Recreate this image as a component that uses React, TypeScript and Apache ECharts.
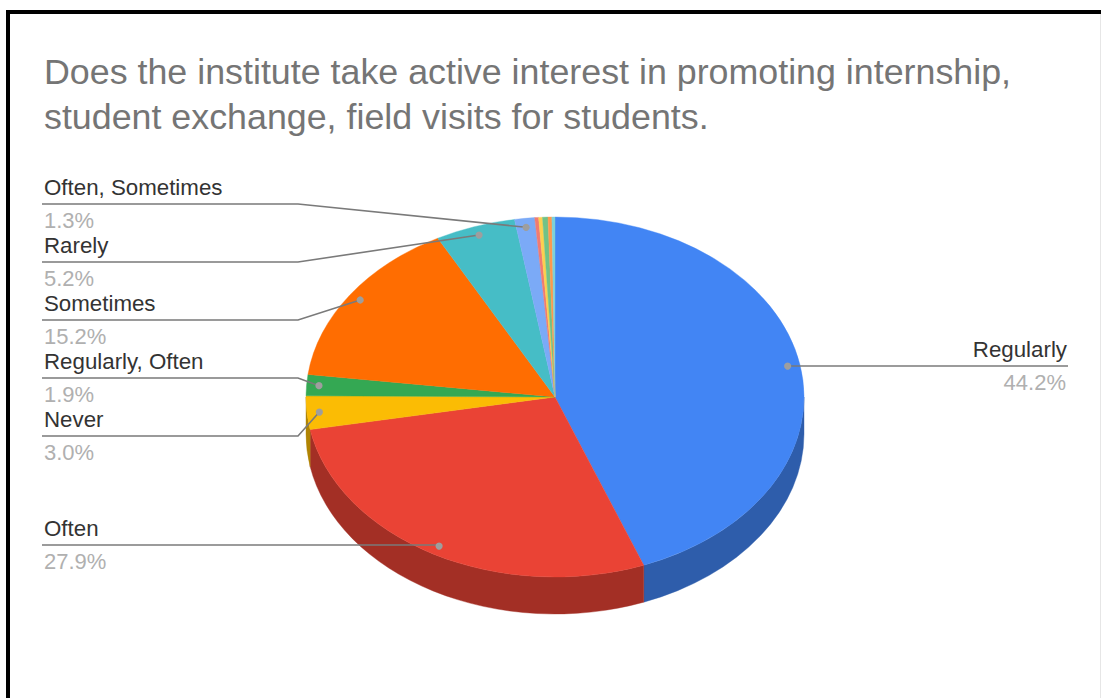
import React, { useEffect, useRef } from "react";
import * as echarts from "echarts";

const titleText =
  "Does the institute take active interest in promoting internship,\nstudent exchange, field visits for students.";
const categories = [
  "Regularly",
  "Often",
  "Never",
  "Regularly, Often",
  "Sometimes",
  "Rarely",
  "Often, Sometimes",
  "",
  "",
  "",
  "",
  "",
];
const values = [44.2, 27.9, 3.0, 1.9, 15.2, 5.2, 1.3, 0.25, 0.25, 0.35, 0.25, 0.2];
const colors = [
  "#4285f4", "#ea4335", "#fbbc04", "#34a853", "#ff6d01", "#46bdc6",
  "#7baaf7", "#f07b72", "#fcd04f", "#71c287", "#ff994d", "#7ed1d7",
];
const sideColors = [
  "#2e5dab", "#a32f25", "#b08403", "#24763a", "#b34c01", "#31848b",
  "#5677ad", "#a85650", "#b09237", "#4f885f", "#b36b36", "#588e96",
];

const CX = 555;
const CY = 397;
const RX = 249;
const RY = 180;
const DEPTH = 37;
const FONT = "'Liberation Sans', Arial, sans-serif";

// label layout (index into categories -> underline y and side)
const labelRows: Record<number, number> = { 0: 366, 1: 545, 2: 436, 3: 378, 4: 320, 5: 262, 6: 204 };

const total = values.reduce((a, b) => a + b, 0);
const startOf = (i: number) => values.slice(0, i).reduce((a, b) => a + b, 0);
const toAngle = (v: number) => (v / total) * Math.PI * 2;
const px = (a: number, r = 1) => CX + RX * r * Math.sin(a);
const py = (a: number, r = 1) => CY - RY * r * Math.cos(a);

function topPath(a0: number, a1: number) {
  const large = a1 - a0 > Math.PI ? 1 : 0;
  return `M${CX} ${CY}L${px(a0)} ${py(a0)}A${RX} ${RY} 0 ${large} 1 ${px(a1)} ${py(a1)}Z`;
}
function sidePath(a0: number, a1: number) {
  return (
    `M${px(a0)} ${py(a0)}A${RX} ${RY} 0 0 1 ${px(a1)} ${py(a1)}` +
    `L${px(a1)} ${py(a1) + DEPTH}A${RX} ${RY} 0 0 0 ${px(a0)} ${py(a0) + DEPTH}Z`
  );
}

export default function App() {
  const ref = useRef<HTMLDivElement>(null);
  useEffect(() => {
    document.body.style.margin = "0";
    document.body.style.overflow = "hidden";
    const chart = echarts.init(ref.current!, undefined, { renderer: "svg" });
    const textStyle = (text: string, x: number, y: number, size: number, fill: string, align: string) => ({
      type: "text",
      style: { text, x, y, fontFamily: FONT, fontSize: size, fill, align, verticalAlign: "middle" },
    });
    chart.setOption({
      animation: false,
      backgroundColor: "#ffffff",
      title: {
        text: titleText,
        left: 39,
        top: 44,
        textStyle: { color: "#757575", fontFamily: FONT, fontSize: 35.8, fontWeight: "normal", lineHeight: 45 },
      },
      graphic: [
        { type: "rect", shape: { x: 6, y: 10, width: 4, height: 688 }, style: { fill: "#000" } },
        { type: "rect", shape: { x: 6, y: 10, width: 1095, height: 4 }, style: { fill: "#000" } },
        { type: "rect", shape: { x: 1100, y: 14, width: 1, height: 684 }, style: { fill: "#e6e6e6" } },
      ],
      series: [
        {
          type: "custom",
          coordinateSystem: "none",
          z: 1,
          data: values,
          renderItem: (params: any, api: any) => {
            const i = params.dataIndex;
            const a0 = Math.max(toAngle(startOf(i)), Math.PI / 2);
            const a1 = Math.min(toAngle(startOf(i) + api.value(0)), (Math.PI * 3) / 2);
            if (a1 <= a0) return null;
            return {
              type: "path",
              shape: { pathData: sidePath(a0, a1) },
              style: { fill: sideColors[i], stroke: sideColors[i], lineWidth: 0.4 },
            };
          },
        },
        {
          type: "custom",
          coordinateSystem: "none",
          z: 2,
          data: values,
          renderItem: (params: any, api: any) => {
            const i = params.dataIndex;
            const a0 = toAngle(startOf(i));
            const a1 = toAngle(startOf(i) + api.value(0));
            return {
              type: "path",
              shape: { pathData: topPath(a0, a1) },
              style: { fill: colors[i], stroke: colors[i], lineWidth: 0.4 },
            };
          },
        },
        {
          type: "custom",
          coordinateSystem: "none",
          z: 3,
          data: values,
          renderItem: (params: any, api: any) => {
            const i = params.dataIndex;
            const rowY = labelRows[i];
            if (rowY === undefined) return null;
            const v = api.value(0);
            const mid = toAngle(startOf(i) + v / 2);
            const dx = px(mid, 0.95);
            const dy = py(mid, 0.95);
            const right = i === 0;
            const pts = right
              ? [[1068, rowY], [dx, rowY]]
              : Math.abs(dy - rowY) < 2
              ? [[42, rowY], [dx, rowY]]
              : [[42, rowY], [298, rowY], [dx, dy]];
            const tx = right ? 1067 : 44;
            const align = right ? "right" : "left";
            return {
              type: "group",
              children: [
                { type: "polyline", shape: { points: pts }, style: { fill: "none", stroke: "#7a7a7a", lineWidth: 1.6 } },
                { type: "circle", shape: { cx: dx, cy: dy, r: 3.6 }, style: { fill: "#9e9e9e" } },
                textStyle(categories[i], tx, rowY - 17, 22.3, "#333333", align),
                textStyle(`${v.toFixed(1)}%`, right ? 1066 : 44, rowY + 16, 22, "#b0b0b0", align),
              ],
            };
          },
        },
      ],
    });
    return () => chart.dispose();
  }, []);
  return <div ref={ref} style={{ width: 1101, height: 698 }} />;
}
